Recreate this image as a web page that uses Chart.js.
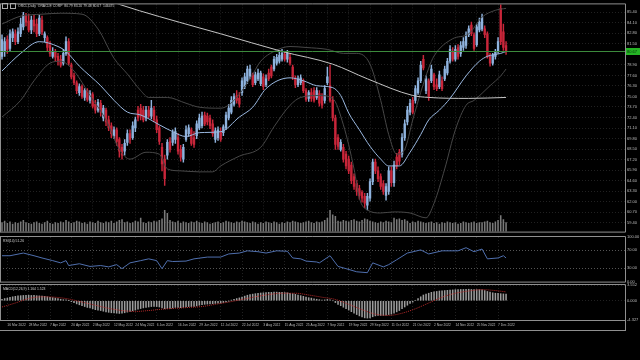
<!DOCTYPE html>
<html>
<head>
<meta charset="utf-8">
<title>ORCL Daily</title>
<script src="https://cdn.jsdelivr.net/npm/chart.js@4.4.1/dist/chart.umd.min.js"></script>
<style>
  html, body { margin: 0; padding: 0; background: #000; }
  #wrap { position: relative; width: 640px; height: 360px; background: #000; overflow: hidden; }
  .pane { position: absolute; left: 0; width: 640px; }
  #mainPane { top: 0; height: 236px; }
  #rsiPane { top: 232px; height: 54px; }
  #macdPane { top: 280px; height: 54px; }
  #bottomLine { position: absolute; left: 0; top: 330px; width: 626px; height: 1px; background: #8f8f8f; }
  #axisTail { position: absolute; left: 625px; top: 320px; width: 1px; height: 11px; background: #8f8f8f; }
</style>
</head>
<body>
<div id="wrap">
  <div class="pane" id="mainPane"><canvas id="mainChart" width="640" height="236"></canvas></div>
  <div class="pane" id="rsiPane"><canvas id="rsiChart" width="640" height="54"></canvas></div>
  <div class="pane" id="macdPane"><canvas id="macdChart" width="640" height="54"></canvas></div>
  <div id="bottomLine"></div>
  <div id="axisTail"></div>
</div>
<script>
// daily bars, index 0 = 14 Mar 2022 ... 189 = 12 Dec 2022
const open = [79.96,80.56,82.02,80.93,82.26,82.74,81.77,82.74,83.59,84.92,
  84.31,83.22,84.43,83.95,82.74,84.43,82.26,82.26,81.29,79.96,
  80.56,79.96,79.60,79.11,80.32,81.77,78.87,77.54,76.69,75.48,
  76.21,74.88,75.73,74.52,75.24,74.04,73.31,74.16,72.34,73.31,
  72.10,71.38,70.17,70.89,69.68,68.72,68.23,69.32,70.41,69.92,
  71.13,73.31,73.55,73.31,72.34,73.31,72.58,73.31,72.10,71.13,
  68.72,67.26,67.75,69.44,69.32,69.68,69.92,68.47,67.26,69.68,
  70.41,70.89,69.92,70.17,71.13,71.38,72.71,72.58,72.34,71.62,
  69.68,69.92,70.65,70.53,71.13,72.34,73.07,74.04,75.12,74.76,
  75.48,76.21,76.94,77.54,77.66,76.69,77.18,76.57,77.42,76.45,
  77.90,78.63,78.39,79.11,79.35,79.60,80.20,79.60,79.84,78.63,
  77.30,76.45,76.69,76.94,75.73,74.76,75.48,75.73,74.88,75.36,
  75.00,74.52,76.69,76.33,74.52,72.34,69.92,68.47,68.72,67.87,
  67.26,66.54,65.09,64.24,63.63,63.15,62.67,61.58,62.43,64.48,
  66.90,65.81,65.09,64.24,62.79,63.27,65.81,64.36,67.51,68.11,
  67.87,69.92,71.86,73.07,74.52,74.52,75.48,76.94,79.60,75.73,
  76.94,76.94,77.66,76.45,76.21,76.94,77.18,77.90,79.35,80.56,
  79.60,81.05,80.32,81.05,81.29,82.62,83.83,82.62,81.41,83.22,
  83.35,83.35,82.74,79.96,79.11,79.96,80.56,85.88,82.98,81.29];
const close = [82.02,81.77,80.81,82.74,82.98,81.77,82.98,83.95,85.04,84.19,
  83.22,84.43,83.71,82.74,84.68,82.98,82.74,81.05,80.32,80.56,
  79.84,79.35,78.87,80.32,81.77,79.11,77.42,76.69,75.73,76.21,
  75.00,75.73,74.64,75.36,73.79,73.31,74.28,73.07,73.55,71.86,
  71.13,70.41,70.89,69.44,68.23,67.75,69.20,70.41,69.68,71.38,
  72.10,72.34,72.58,72.10,73.31,72.58,73.55,72.10,70.89,69.44,
  66.66,64.84,69.32,68.47,70.53,70.65,68.23,67.51,68.72,70.89,
  71.13,69.20,69.08,71.62,72.34,72.58,71.62,71.86,71.38,70.41,
  70.77,70.89,69.68,71.25,72.71,73.55,74.52,75.00,74.52,74.04,
  76.94,77.42,78.39,78.39,76.45,77.66,77.90,77.90,76.21,77.18,
  77.18,77.54,79.60,79.84,80.08,80.32,79.60,80.32,79.11,77.42,
  76.45,77.18,77.30,75.73,74.64,75.48,74.76,74.52,75.73,74.16,
  73.91,75.97,77.42,74.52,72.34,69.08,68.84,69.32,67.26,66.42,
  65.81,64.60,63.88,63.27,62.79,62.43,61.82,62.67,64.48,66.90,
  65.81,64.84,63.88,63.27,63.88,65.81,64.36,66.54,66.42,67.02,
  69.92,71.62,73.31,74.16,73.07,75.97,76.94,78.87,78.51,77.18,
  75.00,78.39,76.21,75.97,77.66,75.97,78.39,79.35,80.81,79.60,
  80.81,79.96,81.29,81.77,82.62,83.35,82.74,80.93,83.59,84.19,
  84.80,82.62,79.96,79.11,80.08,80.56,81.77,81.77,81.05,80.67];
const high = [82.62,82.26,82.50,83.22,83.35,83.22,83.47,84.68,85.40,85.28,
  85.16,84.92,85.04,84.55,85.04,84.92,82.98,82.50,81.77,81.05,
  80.81,80.32,80.08,80.81,82.38,82.14,79.11,77.90,76.94,76.57,
  76.45,75.97,75.97,75.73,75.48,74.52,74.64,74.52,73.91,73.55,
  72.58,71.74,71.25,71.13,69.92,69.08,69.68,70.89,70.89,71.86,
  72.46,73.79,74.04,73.79,73.79,73.79,74.52,73.79,72.58,71.38,
  69.20,67.75,69.68,69.92,70.89,71.13,70.41,68.96,69.08,71.38,
  71.50,71.13,70.65,71.98,72.83,73.07,73.07,72.95,72.71,72.10,
  71.13,71.25,71.13,71.50,73.07,74.04,75.00,75.36,75.73,75.48,
  77.30,77.90,78.75,78.87,77.90,78.02,78.39,78.14,77.78,77.66,
  78.39,78.87,79.96,80.20,80.44,80.81,80.56,80.69,80.32,78.87,
  77.54,77.54,77.66,77.18,75.97,75.73,75.97,76.09,76.09,75.73,
  75.36,76.33,78.63,78.87,75.00,72.71,70.29,69.68,69.08,68.23,
  67.63,66.90,65.45,64.60,64.01,63.39,63.03,63.03,64.84,67.26,
  67.26,66.30,65.45,64.60,64.24,66.30,66.30,67.02,67.99,68.47,
  70.41,72.10,73.79,74.64,74.88,76.33,77.30,79.35,80.08,77.54,
  77.18,78.87,77.90,77.18,78.14,77.42,78.75,79.72,81.29,81.05,
  81.29,81.41,81.77,82.26,82.98,83.71,84.19,82.86,83.95,84.68,
  85.16,83.71,82.98,80.32,80.32,80.81,82.26,86.61,83.95,81.77];
const low = [79.60,79.96,80.32,80.56,81.77,81.41,81.53,82.38,83.22,83.71,
  82.98,82.74,82.98,82.38,82.50,82.62,81.77,80.56,79.96,79.72,
  79.35,78.87,78.63,78.87,80.08,78.87,77.18,76.45,75.36,75.12,
  74.76,74.52,74.40,74.16,73.55,72.95,73.07,72.58,71.98,71.38,
  70.77,69.92,69.80,68.96,67.51,67.26,67.75,68.96,69.20,69.68,
  70.65,71.98,72.10,71.86,71.98,72.34,72.22,71.86,70.53,69.08,
  65.81,64.01,67.26,68.11,68.96,69.20,67.87,67.02,66.90,69.44,
  70.05,68.96,68.72,69.80,70.89,71.13,71.38,71.50,71.01,70.05,
  69.32,69.56,69.44,70.17,70.89,72.10,72.83,73.79,74.16,73.67,
  75.12,75.97,76.57,77.18,76.21,76.45,76.94,76.33,75.85,76.21,
  76.94,77.30,78.14,78.87,79.11,79.35,79.35,79.23,78.87,77.06,
  76.09,76.21,76.45,75.48,74.40,74.40,74.40,74.28,74.64,73.79,
  73.55,74.16,76.45,74.28,71.98,68.47,68.47,68.23,66.90,66.05,
  65.45,64.24,63.51,62.79,62.31,61.94,61.22,60.98,62.07,64.12,
  65.45,64.48,63.51,62.91,62.19,62.91,63.88,63.88,66.05,66.54,
  67.51,69.56,71.50,72.71,72.83,74.16,75.24,76.69,78.27,75.36,
  74.52,76.69,75.85,75.73,75.97,75.73,76.94,77.66,79.11,79.35,
  79.35,79.60,79.96,80.69,80.93,82.38,82.50,80.69,81.17,82.98,
  83.10,82.26,79.72,78.75,78.87,79.60,80.32,81.41,80.69,80.20];
const volume = [12,14,11,13,10,12,11,13,15,12, 11,10,12,13,11,10,12,14,11,10,
  12,11,13,12,15,13,11,12,14,13, 11,12,10,13,12,11,14,12,11,13,
  12,14,11,13,15,16,12,13,11,12, 14,13,18,12,11,13,12,14,13,15,
  17,28,24,15,13,12,14,11,13,12, 11,13,12,14,12,11,13,12,10,11,
  12,13,11,12,14,13,12,11,13,12, 14,13,12,11,13,12,10,12,11,13,
  12,11,13,12,10,12,11,13,12,14, 13,12,11,12,13,14,12,11,13,12,
  13,15,18,28,22,20,14,13,15,14, 13,15,16,14,13,15,17,16,14,13,
  12,11,13,12,14,13,12,18,16,17, 15,16,14,11,13,12,14,13,12,11,
  12,13,11,12,10,12,11,13,12,11, 12,10,11,13,12,11,12,13,11,12,
  12,13,14,12,11,13,15,21,16,12];

// indicator lines read at bar positions
const ma20Idx = [0,7,14,21,24,29,37,42,47,52,59,64,69,74,82,89,94,99,108,113,118,124,127,130,134,138,142,145,149,153,157,160,164,168,174,179,182,187,189];
const ma20Val = [78.15,80.32,81.77,81.17,80.56,78.75,76.33,74.52,73.07,72.71,71.50,70.65,70.05,70.53,70.65,72.46,73.67,75.97,77.30,76.94,76.33,76.09,75.12,72.95,70.89,68.84,67.26,66.42,66.42,68.11,70.29,72.10,73.31,74.76,77.54,79.35,79.96,80.32,80.56];
const longIdx = [37,44,74,82,105,124,137,154,160,175,189];
const longVal = [87.21,86.37,83.47,82.74,80.56,78.99,77.18,75.12,74.88,74.76,74.88];
const upperIdx = [0,7,15,22,30,36,42,47,52,55,62,69,74,82,87,93,97,102,108,114,122,128,133,138,142,145,148,151,154,157,160,162,169,175,180,185,189];
const upperVal = [83.95,84.92,85.16,85.28,85.16,83.34,79.72,77.78,75.73,74.88,74.88,74.16,73.67,73.55,74.52,77.18,79.35,80.56,81.17,81.05,80.81,80.32,80.32,78.99,74.52,70.29,67.87,68.47,72.10,75.50,78.50,80.00,82.13,82.74,84.80,85.64,85.88];
const lowerIdx = [0,7,12,18,22,27,33,39,44,48,54,59,62,67,74,79,82,89,97,102,108,112,119,124,128,132,134,137,142,147,153,159,162,166,170,174,177,183,187,189];
const lowerVal = [72.46,74.52,76.94,79.11,79.35,78.14,75.12,72.10,68.47,67.26,68.11,67.87,66.05,65.81,65.69,65.69,66.42,67.63,68.72,71.26,73.91,74.88,75.12,74.76,71.50,66.05,62.43,60.98,60.61,60.74,60.61,60.01,61.82,66.05,70.89,73.91,74.52,76.33,77.54,78.39];

const rsiIdx = [0,3,8,12,15,19,22,24,25,29,33,37,40,43,45,48,52,55,58,60,62,64,69,72,77,82,85,89,92,96,99,103,107,109,112,114,118,119,123,126,129,133,137,139,143,145,148,152,157,160,165,171,174,177,180,182,186,188,189];
const rsiVal = [58,58,64,58,53,47,42,47,36,40,34,36,33,38,29,42,47,51,47,29,47,45,46,51,55,55,62,64,69,67,64,69,68,53,51,46,44,42,58,34,29,22,20,42,33,38,49,64,71,62,69,69,76,67,73,51,53,58,53];

const macdMain = [0.3,0.5,0.6,0.8,0.9,1.0,1.1,1.15,1.2,1.25,
  1.25,1.2,1.2,1.15,1.1,1.05,1.0,0.9,0.8,0.7,
  0.6,0.5,0.35,0.25,0.2,0.05,-0.2,-0.45,-0.7,-0.9,
  -1.1,-1.3,-1.5,-1.6,-1.8,-2.0,-2.1,-2.2,-2.35,-2.5,
  -2.6,-2.7,-2.75,-2.8,-2.85,-2.8,-2.7,-2.55,-2.4,-2.25,
  -2.1,-1.9,-1.75,-1.6,-1.5,-1.4,-1.3,-1.25,-1.3,-1.4,
  -1.6,-1.8,-1.75,-1.7,-1.6,-1.5,-1.5,-1.55,-1.5,-1.4,
  -1.3,-1.3,-1.25,-1.15,-1.0,-0.9,-0.8,-0.75,-0.7,-0.65,
  -0.6,-0.55,-0.5,-0.4,-0.25,-0.05,0.15,0.35,0.5,0.65,
  0.85,1.05,1.25,1.4,1.5,1.6,1.7,1.75,1.8,1.85,
  1.9,1.9,1.95,1.95,1.9,1.9,1.85,1.8,1.7,1.6,
  1.45,1.3,1.15,1.0,0.85,0.7,0.6,0.45,0.35,0.25,
  0.15,0.2,0.3,0.2,0.0,-0.4,-0.8,-1.1,-1.45,-1.8,
  -2.1,-2.45,-2.8,-3.1,-3.4,-3.65,-3.85,-3.9,-3.85,-3.6,
  -3.4,-3.3,-3.3,-3.3,-3.25,-3.1,-3.0,-2.8,-2.5,-2.2,
  -1.8,-1.4,-1.0,-0.6,-0.3,0.1,0.5,0.9,1.3,1.5,
  1.7,1.9,2.0,2.1,2.2,2.25,2.3,2.35,2.4,2.45,
  2.5,2.5,2.55,2.55,2.6,2.6,2.55,2.5,2.5,2.5,
  2.45,2.3,2.1,1.95,1.8,1.7,1.65,1.6,1.55,1.5];
const sigIdx = [0,5,10,15,20,25,30,35,40,45,50,55,60,65,70,75,80,85,90,95,100,105,110,115,120,125,130,135,140,145,150,155,160,165,170,175,180,185,189];
const sigVal = [-1.4,-0.5,0.5,0.9,0.8,0.4,-0.3,-1.0,-1.7,-2.2,-2.4,-2.2,-1.9,-1.7,-1.5,-1.3,-0.8,-0.3,0.3,0.9,1.4,1.7,1.7,1.3,0.8,0.3,-0.8,-2.0,-3.0,-3.3,-2.8,-1.8,-0.5,0.8,1.7,2.2,2.5,2.3,2.0];

// axis ticks
const priceTicks = [85.40,84.10,82.80,81.50,78.90,77.60,76.30,75.00,73.70,72.40,71.10,69.80,68.50,67.20,65.90,64.60,63.30,62.00,60.70,59.40];
const rsiTicks = [100, 70, 30, 0];
const macdTicks = [3.552, 0, -4.327];
const dateIdx = [2,10,18,26,34,42,50,58,66,74,82,90,98,106,114,122,130,138,146,154,162,170,178,186];
const dateLabels = ['16 Mar 2022','28 Mar 2022','7 Apr 2022','20 Apr 2022','2 May 2022','12 May 2022','24 May 2022','6 Jun 2022',
  '16 Jun 2022','29 Jun 2022','12 Jul 2022','22 Jul 2022','3 Aug 2022','15 Aug 2022','25 Aug 2022','7 Sep 2022',
  '19 Sep 2022','29 Sep 2022','11 Oct 2022','21 Oct 2022','2 Nov 2022','14 Nov 2022','25 Nov 2022','7 Dec 2022'];

const titleText = 'ORCL,Daily  ORACLE CORP  80.79 83.20 79.48 80.67  146475';
const rsiText = 'RSI(14) 51.26';
const macdText = 'MACD(12,26,9) 1.164 1.523';

const X_MIN = -0.75, X_MAX = 233.6;
const textColor = '#bdbdbd';
const gridColor = 'rgba(110,110,110,0.3)';
const frameColor = '#8f8f8f';
const upColor = '#8fb3de';
const downColor = '#c9263a';

Chart.defaults.font.family = "'Liberation Sans', sans-serif";
Chart.defaults.animation = false;
Chart.defaults.events = [];
Chart.defaults.plugins.legend.display = false;
Chart.defaults.plugins.tooltip.enabled = false;

const pts = (idx, val) => idx.map((x, i) => ({ x: x, y: val[i] }));
const candleColors = close.map((c, i) => c >= open[i] ? upColor : downColor);

function dateAxis(showLabels) {
    return {
        type: 'linear', min: X_MIN, max: X_MAX, offset: false,
        afterBuildTicks: s => { s.ticks = dateIdx.map(v => ({ value: v })); },
        afterFit: s => { s.height = showLabels ? 10 : 0; },
        grid: { color: gridColor, drawTicks: false, offset: false },
        border: { display: false, dash: [1, 2] },
        ticks: {
            display: showLabels, autoSkip: false, maxRotation: 0, align: 'start', padding: 3,
            color: textColor, font: { size: 3.3 }, callback: (v, i) => dateLabels[i]
        }
    };
}

function valueAxis(min, max, ticks, digits, grid) {
    return {
        type: 'linear', position: 'right', min: min, max: max,
        afterBuildTicks: s => { s.ticks = ticks.map(v => ({ value: v })); },
        afterFit: s => { s.width = 15; },
        grid: Object.assign({ color: gridColor, drawTicks: false }, grid || {}),
        border: { display: false, dash: [1, 2] },
        ticks: { color: textColor, font: { size: 4 }, padding: 2, callback: v => v.toFixed(digits) }
    };
}

function frame(id, extra) {
    return {
        id: id,
        afterDatasetsDraw(chart) {
            const { ctx, chartArea: a } = chart;
            ctx.save();
            ctx.strokeStyle = frameColor;
            ctx.lineWidth = 1;
            ctx.beginPath();
            ctx.moveTo(0, a.top - 0.5); ctx.lineTo(a.right + 0.5, a.top - 0.5);
            ctx.moveTo(0, a.bottom + 0.5); ctx.lineTo(a.right + 0.5, a.bottom + 0.5);
            ctx.moveTo(a.right + 0.5, a.top - 0.5); ctx.lineTo(a.right + 0.5, a.bottom + 0.5);
            ctx.moveTo(0.5, a.top - 0.5); ctx.lineTo(0.5, a.bottom + 0.5);
            ctx.stroke();
            ctx.fillStyle = '#cfcfcf';
            ctx.font = "3.4px 'Liberation Sans', sans-serif";
            ctx.textBaseline = 'middle';
            extra(chart, ctx, a);
            ctx.restore();
        }
    };
}

// main window: candles, volumes, MAs and bands
const ctxMain = document.getElementById('mainChart').getContext('2d');
new Chart(ctxMain, {
    type: 'bar',
    data: {
        datasets: [
            { type: 'line', data: pts(ma20Idx, ma20Val), borderColor: '#9ab8e0', borderWidth: 1, pointRadius: 0, cubicInterpolationMode: 'monotone', order: 1 },
            { type: 'line', data: pts(longIdx, longVal), borderColor: '#c4c4c4', borderWidth: 1, pointRadius: 0, cubicInterpolationMode: 'monotone', order: 2 },
            { type: 'line', data: pts(upperIdx, upperVal), borderColor: '#474747', borderWidth: 1, pointRadius: 0, cubicInterpolationMode: 'monotone', order: 3 },
            { type: 'line', data: pts(lowerIdx, lowerVal), borderColor: '#474747', borderWidth: 1, pointRadius: 0, cubicInterpolationMode: 'monotone', order: 3 },
            { data: open.map((o, i) => ({ x: i, y: [o, close[i]] })), backgroundColor: candleColors, barThickness: 1.7, minBarLength: 1, grouped: false, order: 4 },
            { data: low.map((l, i) => ({ x: i, y: [l, high[i]] })), backgroundColor: candleColors, barThickness: 0.8, grouped: false, order: 5 },
            { data: volume.map((v, i) => ({ x: i, y: v })), yAxisID: 'yv', backgroundColor: '#7a7a7a', barThickness: 0.9, grouped: false, order: 9 }
        ]
    },
    options: {
        responsive: false,
        devicePixelRatio: 1,
        layout: { padding: { top: 2, bottom: 2, left: 0, right: 0 } },
        scales: {
            x: dateAxis(false),
            y: valueAxis(58.31, 86.37, priceTicks, 2),
            yv: { type: 'linear', display: false, min: 0, max: 300 }
        }
    },
    plugins: [frame('mainFrame', (chart, ctx, a) => {
        ctx.fillText(titleText, 18, 6);
        ctx.strokeStyle = '#a8a8a8';
        ctx.strokeRect(2.5, 3.5, 5, 5);
        ctx.strokeRect(10.5, 3.5, 5, 5);
        const last = close[close.length - 1];
        const py = Math.round(chart.scales.y.getPixelForValue(last)) + 0.5;
        ctx.strokeStyle = '#3c8a3c';
        ctx.beginPath(); ctx.moveTo(a.left, py); ctx.lineTo(a.right, py); ctx.stroke();
        ctx.fillStyle = '#25b525';
        ctx.fillRect(a.right + 1, py - 3.5, 15, 7);
        ctx.fillStyle = '#06300a';
        ctx.font = "4px 'Liberation Sans', sans-serif";
        ctx.fillText(last.toFixed(2), a.right + 2, py);
    })]
});

const ctxRsi = document.getElementById('rsiChart').getContext('2d');
new Chart(ctxRsi, {
    type: 'line',
    data: {
        datasets: [
            { data: pts(rsiIdx, rsiVal), borderColor: '#4f6fae', borderWidth: 1, pointRadius: 0, tension: 0 }
        ]
    },
    options: {
        responsive: false,
        devicePixelRatio: 1,
        layout: { padding: { top: 5, bottom: 4, left: 0, right: 0 } },
        scales: {
            x: dateAxis(false),
            y: valueAxis(0, 100, rsiTicks, 2, {
                color: c => (c.tick && (c.tick.value === 70 || c.tick.value === 30)) ? '#555555' : 'rgba(0,0,0,0)'
            })
        }
    },
    plugins: [frame('rsiFrame', (chart, ctx, a) => {
        ctx.fillText(rsiText, 3, a.top + 4);
    })]
});

const ctxMacd = document.getElementById('macdChart').getContext('2d');
new Chart(ctxMacd, {
    type: 'bar',
    data: {
        datasets: [
            { type: 'line', data: pts(sigIdx, sigVal), borderColor: '#b82a2a', borderWidth: 1, borderDash: [1, 1], pointRadius: 0, cubicInterpolationMode: 'monotone', order: 1 },
            { data: macdMain.map((v, i) => ({ x: i, y: v })), backgroundColor: '#9c9c9c', barThickness: 0.9, grouped: false, order: 2 }
        ]
    },
    options: {
        responsive: false,
        devicePixelRatio: 1,
        layout: { padding: { top: 5, bottom: 4, left: 0, right: 0 } },
        scales: {
            x: dateAxis(true),
            y: valueAxis(-4.327, 3.552, macdTicks, 3)
        }
    },
    plugins: [frame('macdFrame', (chart, ctx, a) => {
        ctx.fillText(macdText, 3, a.top + 4);
    })]
});
</script>
</body>
</html>
